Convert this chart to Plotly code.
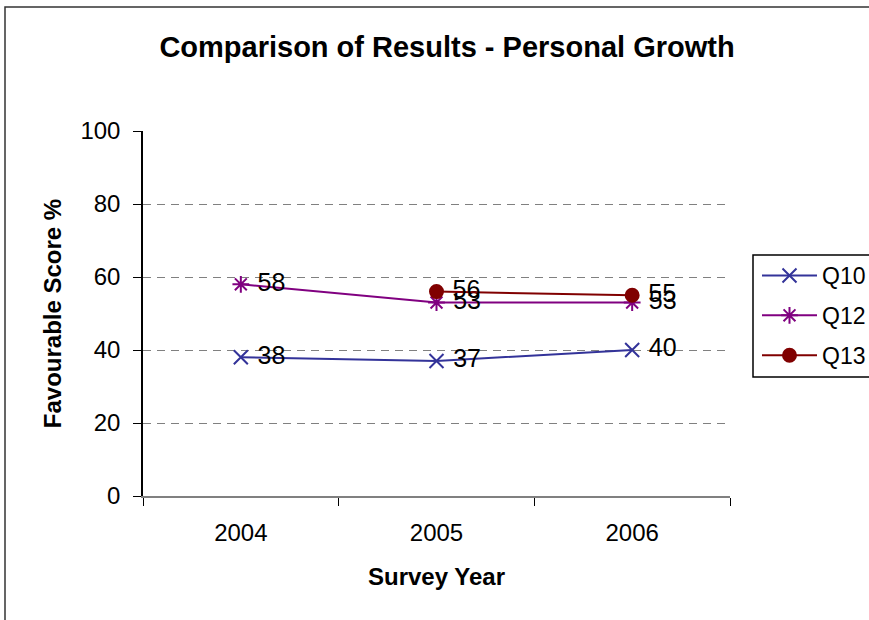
import plotly.graph_objects as go

# Survey data
years = ["2004", "2005", "2006"]
q10 = [38, 37, 40]
q12 = [58, 53, 53]
q13 = [None, 56, 55]

series_names = ["Q10", "Q12", "Q13"]
series_colors = ["#333399", "#800080", "#800000"]
series_symbols = ["x-thin-open", "asterisk-open", "circle"]
series_sizes = [14, 14, 13]

W, H = 869, 620
ML, MR, MT, MB = 143, 139, 131, 124
PW = W - ML - MR
PH = H - MT - MB


def px_x(p):
    return (p - ML) / PW


def px_y(p):
    return (H - MB - p) / PH


FONT = "Liberation Sans, Arial, sans-serif"

fig = go.Figure()
for i, (name, vals) in enumerate(zip(series_names, [q10, q12, q13])):
    fig.add_trace(go.Scatter(
        x=years, y=vals, name=name,
        mode="lines+markers+text",
        text=[("" if v is None else " " + str(v)) for v in vals],
        textposition="middle right",
        textfont=dict(family=FONT, size=25, color="#000000"),
        line=dict(color=series_colors[i], width=2),
        marker=dict(symbol=series_symbols[i], size=series_sizes[i],
                    color=series_colors[i],
                    line=dict(color=series_colors[i], width=2)),
        legendgroup=name,
        cliponaxis=False,
    ))

fig.update_layout(
    width=W, height=H,
    margin=dict(l=ML, r=MR, t=MT, b=MB, autoexpand=False),
    paper_bgcolor="white", plot_bgcolor="white",
    font=dict(family=FONT, color="#000000"),
    title=dict(text="<b>Comparison of Results - Personal Growth</b>",
               font=dict(size=29, family=FONT),
               x=(447 / W), xanchor="center", y=1 - 47 / H, yanchor="middle"),
    showlegend=True,
    legend=dict(x=px_x(757), y=px_y(254), xanchor="left", yanchor="top",
                font=dict(size=23, family=FONT),
                bgcolor="rgba(0,0,0,0)", borderwidth=0,
                tracegroupgap=7, itemwidth=55),
    xaxis=dict(type="category", range=[-0.5, 2.5],
               showgrid=False, showline=True, linecolor="#808080", linewidth=1.5,
               ticks="outside", tickson="boundaries", ticklen=8,
               tickcolor="#000000",
               ticklabelstandoff=14,
               tickfont=dict(size=24, family=FONT),
               title=dict(text="<b>Survey Year</b>", font=dict(size=24, family=FONT),
                          standoff=24),
               zeroline=False),
    yaxis=dict(range=[0, 100], tickvals=[0, 20, 40, 60, 80, 100],
               showgrid=True, gridcolor="#808080", griddash="8px,6px", gridwidth=1,
               showline=True, linecolor="#000000", linewidth=1.5,
               ticks="outside", ticklen=8, tickcolor="#000000",
               ticklabelstandoff=8,
               tickfont=dict(size=24, family=FONT),
               title=dict(text="<b>Favourable Score %</b>", font=dict(size=24, family=FONT),
                          standoff=12),
               zeroline=False),
    shapes=[
        # outer chart frame
        dict(type="rect", xref="paper", yref="paper",
             x0=px_x(5), x1=px_x(W + 40), y0=px_y(H + 40), y1=px_y(7),
             line=dict(color="#333333", width=1.5), fillcolor="rgba(0,0,0,0)",
             layer="below"),
        # legend box
        dict(type="rect", xref="paper", yref="paper",
             x0=px_x(753), x1=px_x(W + 40), y0=px_y(377), y1=px_y(255),
             line=dict(color="#000000", width=1.5), fillcolor="rgba(0,0,0,0)"),
    ],
)

fig.write_html("out.html")
